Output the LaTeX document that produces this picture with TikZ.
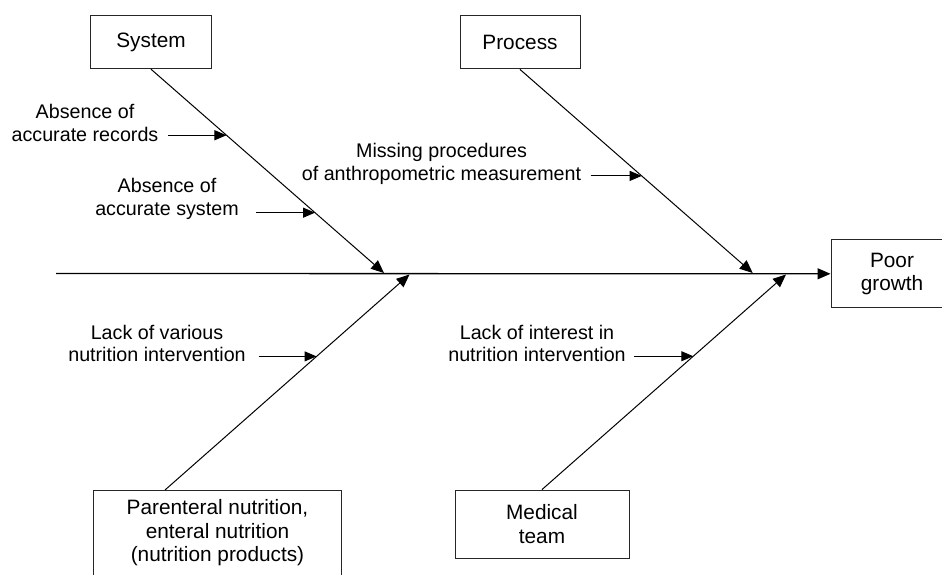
\documentclass[tikz,border=0pt]{standalone}
\usepackage{fontspec}
\setmainfont{Liberation Sans}
\usetikzlibrary{arrows.meta,calc}
\begin{document}
\begin{tikzpicture}[x=1pt,y=-1pt,
  boxnode/.style={draw=black!85,line width=1pt,fill=white,inner sep=0pt,align=center,
    font=\fontsize{20.8}{23.5}\selectfont},
  lbl/.style={align=center,inner sep=0pt,font=\fontsize{19.7}{22.5}\selectfont},
  arr/.style={line width=1pt,-{Triangle[length=12pt,width=10pt]}},
  bone/.style={line width=1pt,-{Triangle[length=13pt,width=11pt]}}]
\clip (0,0) rectangle (942,575);
% boxes
\node[boxnode,minimum width=120.6pt,minimum height=53pt] (sys) at (151,42.2) {System};
\node[boxnode,minimum width=120pt,minimum height=53.3pt] (proc) at (520,42.3) {Process};
\node[boxnode,minimum width=122pt,minimum height=67.7pt] (poor) at (892,273.8) {Poor\\growth};
\node[boxnode,minimum width=248.4pt,minimum height=86pt] (par) at (217.5,533) {Parenteral nutrition,\\enteral nutrition\\(nutrition products)};
\node[boxnode,minimum width=174pt,minimum height=68.3pt] (med) at (542,524.2) {Medical\\team};
% spine
\coordinate (tail) at (56,273.5);
\draw[line width=1.3pt,-{Triangle[length=13pt,width=11pt]}] (tail) -- (poor.west);
% bone ends on spine
\coordinate (m1) at (384,273);
\coordinate (m2) at (752.7,273);
\coordinate (m3) at (409.5,274.5);
\coordinate (m4) at (786,274.5);
\coordinate (sysb) at (sys.south);
\coordinate (procb) at (proc.south);
\coordinate (part) at (165,490);
\coordinate (medt) at (med.north);
\draw[bone] (sysb) -- (m1);
\draw[bone] (procb) -- (m2);
\draw[bone] (part) -- (m3);
\draw[bone] (medt) -- (m4);
% junctions on bones
\coordinate (j1) at ($(sysb)!0.324!(m1)$);
\coordinate (j2) at ($(sysb)!0.704!(m1)$);
\coordinate (j3) at ($(procb)!0.523!(m2)$);
\coordinate (j4) at ($(part)!0.62!(m3)$);
\coordinate (j5) at ($(medt)!0.62!(m4)$);
\coordinate (a1) at ([xshift=-58pt]j1);
\coordinate (a2) at ([xshift=-59pt]j2);
\coordinate (a3) at ([xshift=-51pt]j3);
\coordinate (a4) at ([xshift=-58pt]j4);
\coordinate (a5) at ([xshift=-59pt]j5);
\draw[arr] (a1) -- (j1);
\draw[arr] (a2) -- (j2);
\draw[arr] (a3) -- (j3);
\draw[arr] (a4) -- (j4);
\draw[arr] (a5) -- (j5);
% labels
\node[lbl] (l1) at (85,123) {Absence of\\accurate records};
\node[lbl] (l2) at (167,199) {Absence of\\accurate system};
\node[lbl] (l3) at (441.5,164) {Missing procedures\\of anthropometric measurement};
\node[lbl] (l4) at (157,343.5) {Lack of various\\nutrition intervention};
\node[lbl] (l5) at (537,343.5) {Lack of interest in\\nutrition intervention};
\end{tikzpicture}
\end{document}
